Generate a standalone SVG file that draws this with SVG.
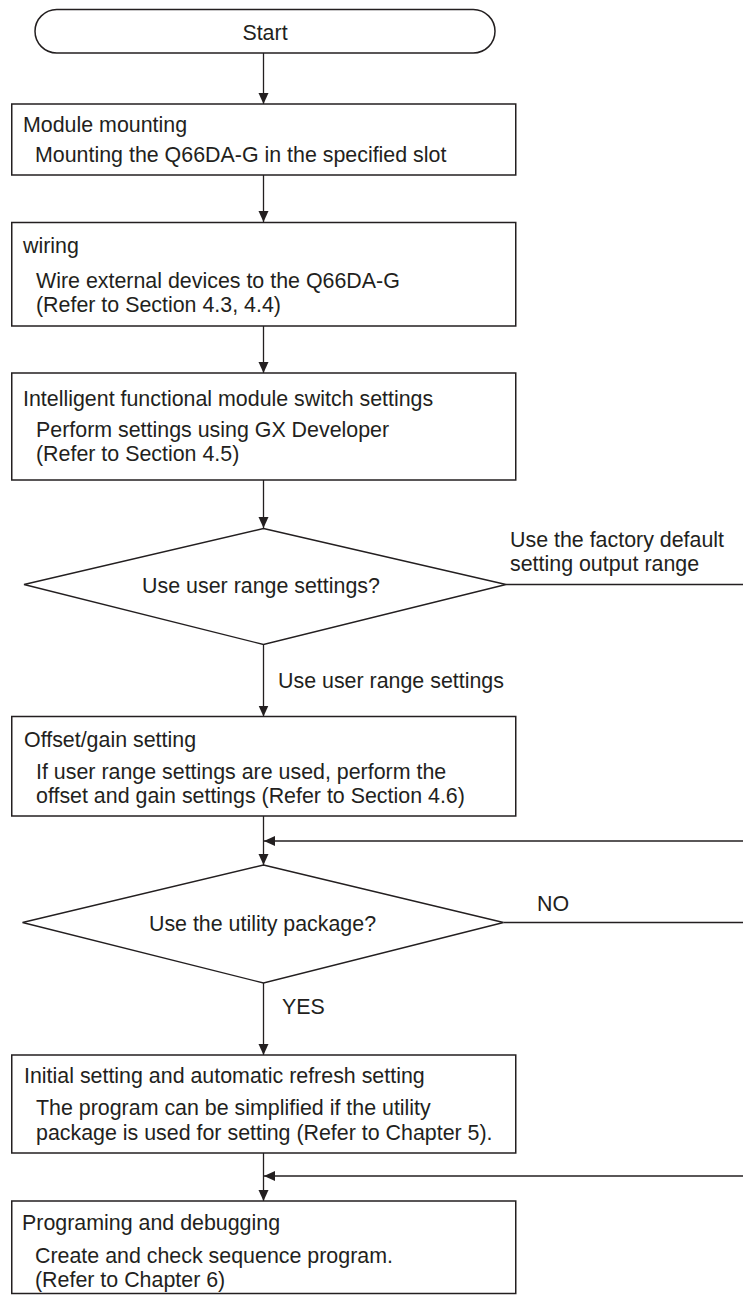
<svg xmlns="http://www.w3.org/2000/svg" width="743" height="1295" viewBox="0 0 743 1295">
<defs>
<style>
.box{fill:#fff;stroke:#231f20;stroke-width:1.5}
.dia{fill:#fff;stroke:#231f20;stroke-width:1.3}
.ln{fill:none;stroke:#231f20;stroke-width:1.3}
text{font-family:"Liberation Sans",Arial,sans-serif;font-size:21.4px;fill:#231f20}
.c{text-anchor:middle}
</style>
<marker id="ah" markerUnits="userSpaceOnUse" markerWidth="12" markerHeight="12" viewBox="0 0 12 12" refX="11" refY="6" orient="auto">
<path d="M0,1 L11,6 L0,11 Z" fill="#231f20"/>
</marker>
</defs>
<rect width="743" height="1295" fill="#fff"/>
<g id="connectors">
<line class="ln" x1="263.5" y1="53" x2="263.5" y2="104" marker-end="url(#ah)"/>
<line class="ln" x1="263.5" y1="175" x2="263.5" y2="222" marker-end="url(#ah)"/>
<line class="ln" x1="263.5" y1="326" x2="263.5" y2="373" marker-end="url(#ah)"/>
<line class="ln" x1="263.5" y1="480" x2="263.5" y2="528" marker-end="url(#ah)"/>
<line class="ln" x1="506" y1="584.5" x2="743" y2="584.5"/>
<line class="ln" x1="263.5" y1="644.5" x2="263.5" y2="716.5" marker-end="url(#ah)"/>
<line class="ln" x1="263.5" y1="816" x2="263.5" y2="865" marker-end="url(#ah)"/>
<line class="ln" x1="743" y1="841" x2="264" y2="841" marker-end="url(#ah)"/>
<line class="ln" x1="503.5" y1="922.5" x2="743" y2="922.5"/>
<line class="ln" x1="263.5" y1="983" x2="263.5" y2="1055" marker-end="url(#ah)"/>
<line class="ln" x1="263.5" y1="1153" x2="263.5" y2="1201" marker-end="url(#ah)"/>
<line class="ln" x1="743" y1="1176" x2="264" y2="1176" marker-end="url(#ah)"/>
<text x="510" y="547">Use the factory default</text>
<text x="510" y="571">setting output range</text>
<text x="278" y="688">Use user range settings</text>
<text x="537" y="911">NO</text>
<text x="282" y="1014">YES</text>
</g>
<g id="start">
<rect class="box" x="35" y="9.5" width="460" height="43.5" rx="21.75" ry="21.75"/>
<text class="c" x="265" y="39.5">Start</text>
</g>
<g id="module-mounting">
<rect class="box" x="11.75" y="104" width="504" height="71"/>
<text x="23" y="131.5">Module mounting</text>
<text x="35" y="161.5">Mounting the Q66DA-G in the specified slot</text>
</g>
<g id="wiring">
<rect class="box" x="11.75" y="222.5" width="504" height="103.5"/>
<text x="23" y="253">wiring</text>
<text x="36" y="288">Wire external devices to the Q66DA-G</text>
<text x="36" y="312">(Refer to Section 4.3, 4.4)</text>
</g>
<g id="switch-settings">
<rect class="box" x="11.75" y="373" width="504" height="107"/>
<text x="23" y="405.5">Intelligent functional module switch settings</text>
<text x="36" y="436.5">Perform settings using GX Developer</text>
<text x="36" y="460.5">(Refer to Section 4.5)</text>
</g>
<g id="decision-user-range">
<polygon class="dia" points="263.5,528.5 506,584.5 263.5,644.5 24,584.5"/>
<text class="c" x="261" y="593">Use user range settings?</text>
</g>
<g id="offset-gain">
<rect class="box" x="11.75" y="716.5" width="504" height="99.5"/>
<text x="24" y="746.5">Offset/gain setting</text>
<text x="36" y="779">If user range settings are used, perform the</text>
<text x="36" y="803">offset and gain settings (Refer to Section 4.6)</text>
</g>
<g id="decision-utility">
<polygon class="dia" points="263.5,865 503.5,922.5 263.5,983 22.5,922.5"/>
<text class="c" x="262.5" y="930.5">Use the utility package?</text>
</g>
<g id="initial-setting">
<rect class="box" x="11.75" y="1055" width="504" height="98"/>
<text x="24" y="1082.5">Initial setting and automatic refresh setting</text>
<text x="36" y="1115">The program can be simplified if the utility</text>
<text x="36" y="1140">package is used for setting (Refer to Chapter 5).</text>
</g>
<g id="programming">
<rect class="box" x="11.75" y="1201" width="504" height="92.5"/>
<text x="22" y="1230">Programing and debugging</text>
<text x="35" y="1263">Create and check sequence program.</text>
<text x="35" y="1287">(Refer to Chapter 6)</text>
</g>
</svg>
